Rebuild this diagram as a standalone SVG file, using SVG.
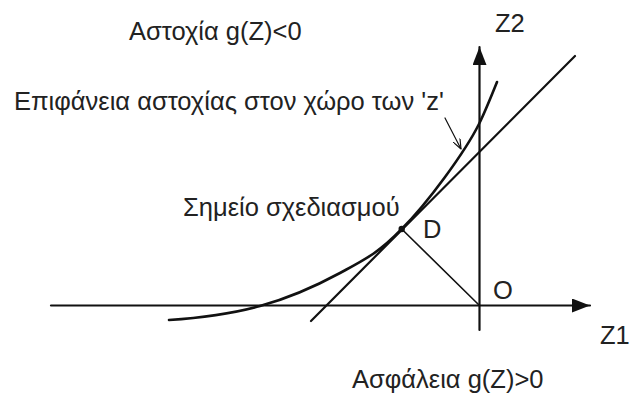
<svg xmlns="http://www.w3.org/2000/svg" width="634" height="394" viewBox="0 0 634 394">
  <style>
    text { font-family: "Liberation Sans", Arial, sans-serif; font-size: 25.5px; fill: #222; }
    .ln { stroke: #111; fill: none; stroke-linecap: round; }
  </style>
  <defs>
    <marker id="big" viewBox="0 0 18 14" refX="18" refY="7" markerUnits="userSpaceOnUse" markerWidth="18" markerHeight="14" orient="auto">
      <path d="M0,0 L18,7 L0,14 Z" fill="#111"/>
    </marker>
    <marker id="small" viewBox="0 0 10 8" refX="10" refY="4" markerUnits="userSpaceOnUse" markerWidth="10" markerHeight="8" orient="auto">
      <path d="M0,0 L10,4 L0,8" fill="none" stroke="#111" stroke-width="1.2"/>
    </marker>
  </defs>
  <rect width="634" height="394" fill="#fff"/>
  <g id="connectors">
    <line class="ln" x1="51" y1="305.5" x2="590" y2="305.5" stroke-width="2.2" marker-end="url(#big)"/>
    <line class="ln" x1="479.5" y1="330" x2="479.5" y2="47" stroke-width="2.2" marker-end="url(#big)"/>
    <path class="ln" stroke-width="2.6" d="M169,320 C199,318 231.5,313.8 260,306 C288.5,298.2 316.4,285.8 340,273 C363.6,260.2 378.5,253.2 401.7,229 C427.7,203 465,152 479,124 C485,112 492,94.5 497,82"/>
    <line class="ln" x1="311" y1="321" x2="575" y2="56" stroke-width="2.2"/>
    <line class="ln" x1="401.7" y1="229" x2="479.5" y2="305.5" stroke-width="1.6"/>
    <line class="ln" x1="445" y1="118" x2="461" y2="149" stroke-width="1.2" marker-end="url(#small)"/>
  </g>
  <g id="point-D">
    <circle cx="401.7" cy="229" r="3.2" fill="#111"/>
    <text x="423" y="238">D</text>
  </g>
  <g id="origin-O">
    <text x="493" y="299">O</text>
  </g>
  <g id="labels">
    <text x="129" y="40">Αστοχία g(Z)&lt;0</text>
    <text x="495" y="32">Z2</text>
    <text x="14" y="110">Επιφάνεια αστοχίας στον χώρο των 'z'</text>
    <text x="183" y="216">Σημείο σχεδιασμού</text>
    <text x="600" y="344">Z1</text>
    <text x="352" y="388">Ασφάλεια g(Z)&gt;0</text>
  </g>
</svg>
